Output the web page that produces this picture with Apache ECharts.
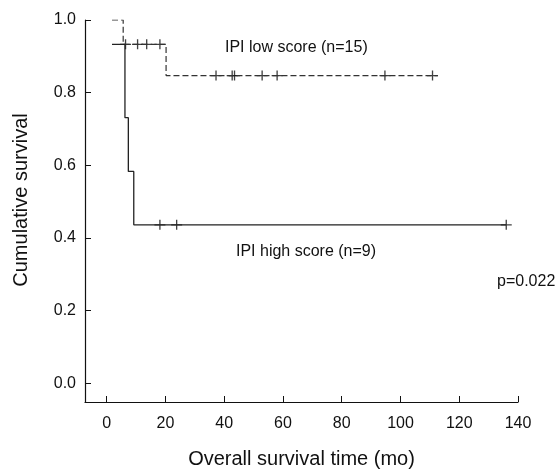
<!DOCTYPE html>
<html>
<head>
<meta charset="utf-8">
<script src="https://cdn.jsdelivr.net/npm/echarts@6/dist/echarts.min.js"></script>
<style>
  html, body { margin: 0; padding: 0; background: #fff; }
  #chart { width: 559px; height: 474px; }
</style>
</head>
<body>
<div id="chart"></div>
<script>
// Kaplan-Meier curves
const lowTimes = [1.8, 5.6, 20.2, 112.7];
const lowSurv = [1.0, 0.933, 0.847, 0.847];
const highTimes = [1.8, 6.2, 7.35, 9.2, 136];
const highSurv = [0.933, 0.731, 0.583, 0.436, 0.436];

// censored cases (+)
const lowCensorT = [6.4, 10.5, 13.6, 18.1, 37.2, 42.7, 43.5, 52.9, 58.0, 94.7, 110.9];
const lowCensorS = [0.933, 0.933, 0.933, 0.933, 0.847, 0.847, 0.847, 0.847, 0.847, 0.847, 0.847];
const highCensorT = [18.1, 23.8, 136];
const highCensorS = [0.436, 0.436, 0.436];

const xTicks = [0, 20, 40, 60, 80, 100, 120, 140];
const yTicks = [0, 0.2, 0.4, 0.6, 0.8, 1.0];

const FONT = 'Liberation Sans, Arial, sans-serif';
const cross = 'path://M4.4,0H5.6V4.4H10V5.6H5.6V10H4.4V5.6H0V4.4H4.4Z';

function pairs(xs, ys) {
    return xs.map((x, i) => [x, ys[i]]);
}

const chart = echarts.init(document.getElementById('chart'));

const option = {
    animation: false,
    grid: { left: 85, right: 41, top: 20, bottom: 70 },
    xAxis: {
        type: 'value',
        min: -7.4,
        max: 140,
        name: 'Overall survival time (mo)',
        nameLocation: 'middle',
        nameGap: 47,
        nameTextStyle: { fontFamily: FONT, fontSize: 20, color: '#111' },
        splitLine: { show: false },
        axisLine: { onZero: false, lineStyle: { color: '#111', width: 1.2 } },
        axisTick: { inside: true, length: 6, customValues: xTicks, lineStyle: { color: '#111' } },
        axisLabel: {
            customValues: xTicks,
            margin: 14,
            fontFamily: FONT,
            fontSize: 16,
            color: '#111'
        }
    },
    yAxis: {
        type: 'value',
        min: -0.052,
        max: 1.0,
        name: 'Cumulative survival',
        nameLocation: 'middle',
        nameGap: 54,
        nameRotate: 90,
        nameTextStyle: { fontFamily: FONT, fontSize: 20, color: '#111', padding: [0, 0, 0, 22] },
        splitLine: { show: false },
        axisLine: { show: true, onZero: false, lineStyle: { color: '#111', width: 1.2 } },
        axisTick: { show: true, inside: true, length: 6, customValues: yTicks, lineStyle: { color: '#111' } },
        axisLabel: {
            customValues: yTicks,
            margin: 9,
            fontFamily: FONT,
            fontSize: 16,
            color: '#111',
            formatter: v => v.toFixed(1)
        }
    },
    graphic: [
        { type: 'text', left: 225, top: 40, style: { text: 'IPI low score (n=15)', font: '16px ' + FONT, fill: '#111' } },
        { type: 'text', left: 236, top: 244, style: { text: 'IPI high score (n=9)', font: '16px ' + FONT, fill: '#111' } },
        { type: 'text', left: 497, top: 274, style: { text: 'p=0.022', font: '16px ' + FONT, fill: '#111' } }
    ],
    series: [
        {
            name: 'IPI low score',
            type: 'line',
            step: 'end',
            showSymbol: false,
            lineStyle: { color: '#333', width: 1.2, type: [6, 3] },
            data: pairs(lowTimes, lowSurv)
        },
        {
            name: 'IPI high score',
            type: 'line',
            step: 'end',
            showSymbol: false,
            lineStyle: { color: '#222', width: 1.3 },
            data: pairs(highTimes, highSurv)
        },
        {
            type: 'scatter',
            symbol: cross,
            symbolSize: [11, 10],
            itemStyle: { color: '#111' },
            data: pairs(lowCensorT, lowCensorS)
        },
        {
            type: 'scatter',
            symbol: cross,
            symbolSize: [11, 10],
            itemStyle: { color: '#111' },
            data: pairs(highCensorT, highCensorS)
        }
    ]
};

chart.setOption(option);
</script>
</body>
</html>
